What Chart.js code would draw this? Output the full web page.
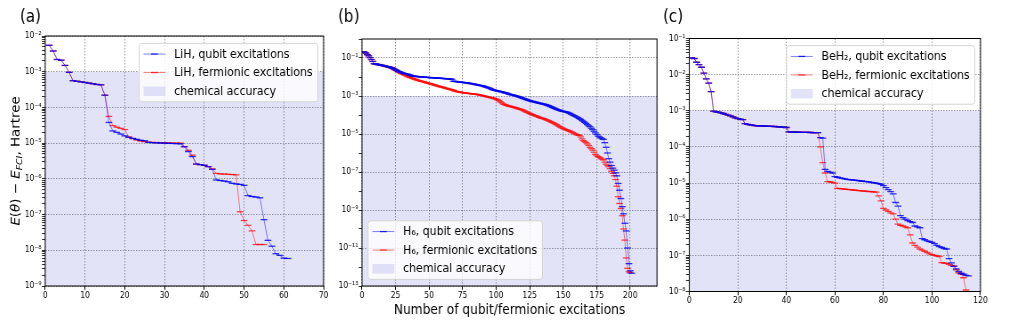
<!doctype html>
<html>
<head>
<meta charset="UTF-8">
<title>Qubit vs fermionic excitations</title>
<script src="https://cdn.jsdelivr.net/npm/chart.js"></script>
<style>
  body { margin: 0; background: #fff; }
  #wrap { position: relative; width: 1009px; height: 336px; overflow: hidden; }
  canvas { position: absolute; top: 0; }
</style>
</head>
<body>
<div id="wrap">
  <canvas id="chartA"></canvas>
  <canvas id="chartB"></canvas>
  <canvas id="chartC"></canvas>
</div>
<script>
// ---- data (energy error in Hartree, one value per added excitation, starting at 1) ----
const chemAccuracy = 1e-3;

const lihLabels = ['LiH, qubit excitations', 'LiH, fermionic excitations', 'chemical accuracy'];
const lihQubit = [
  5.5e-3, 3.8e-3, 2.2e-3, 2.1e-3, 1.5e-3, 9.6e-4, 5.6e-4, 5.4e-4, 5.2e-4, 5.0e-4,
  4.8e-4, 4.6e-4, 4.4e-4, 4.3e-4, 2.2e-4, 3.8e-5, 2.2e-5, 2.0e-5, 1.8e-5, 1.6e-5,
  1.45e-5, 1.35e-5, 1.28e-5, 1.2e-5, 1.17e-5, 1.05e-5, 1.03e-5, 1.02e-5, 1.01e-5, 1.0e-5,
  9.9e-6, 9.8e-6, 9.7e-6, 9.6e-6, 7.9e-6, 5.8e-6, 4.2e-6, 2.6e-6, 2.5e-6, 2.4e-6,
  2.2e-6, 1.85e-6, 9.3e-7, 9.0e-7, 8.7e-7, 8.3e-7, 7.5e-7, 7.2e-7, 7.0e-7, 6.6e-7,
  3.4e-7, 3.2e-7, 3.1e-7, 2.95e-7, 7.2e-8, 1.9e-8, 1.3e-8, 8.0e-9, 7.2e-9, 6.0e-9,
  5.9e-9
];
const lihFerm = [
  5.5e-3, 3.8e-3, 2.2e-3, 2.1e-3, 1.5e-3, 9.6e-4, 5.6e-4, 5.4e-4, 5.2e-4, 5.0e-4,
  4.8e-4, 4.6e-4, 4.4e-4, 4.3e-4, 2.2e-4, 5.6e-5, 3.1e-5, 2.8e-5, 2.6e-5, 2.4e-5,
  1.5e-5, 1.35e-5, 1.22e-5, 1.15e-5, 1.1e-5, 1.06e-5, 1.05e-5, 1.04e-5, 1.03e-5, 1.02e-5,
  1.01e-5, 1.0e-5, 1.0e-5, 1.0e-5, 8.0e-6, 6.3e-6, 4.6e-6, 2.6e-6, 2.5e-6, 2.4e-6,
  2.2e-6, 1.9e-6, 1.42e-6, 1.38e-6, 1.36e-6, 1.34e-6, 1.32e-6, 1.3e-6, 1.2e-7, 6.8e-8,
  5.0e-8, 3.5e-8, 1.45e-8, 1.45e-8, 1.45e-8
];
const lihXTicks = [0, 10, 20, 30, 40, 50, 60, 70];

const h6Labels = ['H₆, qubit excitations', 'H₆, fermionic excitations', 'chemical accuracy'];
const h6Qubit = [
  2.1e-1, 2.0e-1, 1.8e-1, 1.5e-1, 1.3e-1, 1.05e-1, 8.3e-2, 6.6e-2, 5.0e-2, 4.9e-2,
  4.7e-2, 4.5e-2, 4.4e-2, 4.2e-2, 4.1e-2, 3.9e-2, 3.8e-2, 3.6e-2, 3.5e-2, 3.4e-2,
  3.2e-2, 3.0e-2, 2.9e-2, 2.6e-2, 2.4e-2, 2.2e-2, 2.0e-2, 1.9e-2, 1.75e-2, 1.65e-2,
  1.55e-2, 1.5e-2, 1.45e-2, 1.4e-2, 1.32e-2, 1.25e-2, 1.18e-2, 1.12e-2, 1.1e-2, 1.08e-2,
  1.06e-2, 1.04e-2, 1.02e-2, 1.01e-2, 1.0e-2, 9.9e-3, 9.8e-3, 9.6e-3, 9.5e-3, 9.4e-3,
  9.3e-3, 9.2e-3, 9.1e-3, 9.0e-3, 8.9e-3, 8.8e-3, 8.7e-3, 8.6e-3, 8.5e-3, 8.4e-3,
  8.3e-3, 8.2e-3, 8.1e-3, 8.0e-3, 7.9e-3, 7.8e-3, 7.6e-3, 6.0e-3, 5.9e-3, 5.8e-3,
  5.7e-3, 5.5e-3, 5.4e-3, 5.3e-3, 5.2e-3, 5.1e-3, 5.0e-3, 4.9e-3, 4.8e-3, 4.7e-3,
  4.5e-3, 4.4e-3, 4.3e-3, 4.1e-3, 4.0e-3, 3.8e-3, 3.7e-3, 3.6e-3, 3.5e-3, 3.4e-3,
  3.2e-3, 3.0e-3, 2.9e-3, 2.7e-3, 2.6e-3, 2.4e-3, 2.2e-3, 2.1e-3, 2.0e-3, 1.9e-3,
  1.85e-3, 1.8e-3, 1.7e-3, 1.65e-3, 1.6e-3, 1.5e-3, 1.45e-3, 1.4e-3, 1.3e-3, 1.23e-3,
  1.18e-3, 1.14e-3, 1.1e-3, 1.05e-3, 1.0e-3, 9.5e-4, 9.0e-4, 8.5e-4, 8.0e-4, 7.5e-4,
  7.1e-4, 6.7e-4, 6.3e-4, 6.0e-4, 5.7e-4, 5.4e-4, 5.2e-4, 5.0e-4, 4.8e-4, 4.6e-4,
  4.4e-4, 4.2e-4, 4.1e-4, 3.9e-4, 3.8e-4, 3.6e-4, 3.5e-4, 3.3e-4, 3.1e-4, 2.9e-4,
  2.7e-4, 2.5e-4, 2.3e-4, 2.2e-4, 2.0e-4, 1.9e-4, 1.8e-4, 1.7e-4, 1.6e-4, 1.55e-4,
  1.5e-4, 1.45e-4, 1.4e-4, 1.3e-4, 1.2e-4, 1.1e-4, 1.0e-4, 9.3e-5, 8.6e-5, 7.9e-5,
  7.2e-5, 6.5e-5, 5.9e-5, 5.2e-5, 4.6e-5, 4.1e-5, 3.6e-5, 3.1e-5, 2.7e-5, 2.4e-5,
  2.0e-5, 1.7e-5, 1.4e-5, 1.15e-5, 9.5e-6, 7.8e-6, 7.0e-6, 6.3e-6, 5.6e-6, 5.2e-6,
  3.5e-6, 2.0e-6, 1.0e-6, 5.0e-7, 3.3e-7, 2.2e-7, 1.6e-7, 1.25e-7, 9.0e-8, 6.3e-8,
  2.5e-8, 1.1e-8, 4.0e-9, 1.5e-9, 6.3e-10, 2.0e-10, 7.9e-11, 1.0e-11, 1.5e-12, 6.3e-13,
  4.7e-13
];
const h6Ferm = [
  2.1e-1, 2.0e-1, 1.8e-1, 1.5e-1, 1.3e-1, 1.05e-1, 8.3e-2, 6.6e-2, 5.0e-2, 4.9e-2,
  4.7e-2, 4.5e-2, 4.4e-2, 4.2e-2, 4.1e-2, 3.9e-2, 3.8e-2, 3.6e-2, 3.5e-2, 3.4e-2,
  3.2e-2, 3.0e-2, 2.8e-2, 2.5e-2, 2.3e-2, 2.1e-2, 1.9e-2, 1.7e-2, 1.55e-2, 1.45e-2,
  1.35e-2, 1.25e-2, 1.15e-2, 1.05e-2, 1.0e-2, 9.4e-3, 8.9e-3, 8.3e-3, 7.8e-3, 7.4e-3,
  7.0e-3, 6.6e-3, 6.3e-3, 6.0e-3, 5.8e-3, 5.6e-3, 5.3e-3, 5.0e-3, 4.8e-3, 4.6e-3,
  4.4e-3, 4.2e-3, 4.0e-3, 3.8e-3, 3.6e-3, 3.4e-3, 3.3e-3, 3.1e-3, 3.0e-3, 2.9e-3,
  2.8e-3, 2.6e-3, 2.5e-3, 2.4e-3, 2.3e-3, 2.2e-3, 2.1e-3, 2.0e-3, 1.85e-3, 1.75e-3,
  1.7e-3, 1.65e-3, 1.6e-3, 1.55e-3, 1.5e-3, 1.47e-3, 1.44e-3, 1.41e-3, 1.38e-3, 1.35e-3,
  1.33e-3, 1.3e-3, 1.27e-3, 1.25e-3, 1.23e-3, 1.2e-3, 1.16e-3, 1.12e-3, 1.08e-3, 1.05e-3,
  1.0e-3, 9.6e-4, 9.2e-4, 8.8e-4, 8.5e-4, 8.2e-4, 7.9e-4, 7.6e-4, 7.2e-4, 6.8e-4,
  6.3e-4, 5.8e-4, 5.1e-4, 4.5e-4, 3.9e-4, 3.6e-4, 3.4e-4, 3.2e-4, 3.0e-4, 2.9e-4,
  2.8e-4, 2.7e-4, 2.55e-4, 2.45e-4, 2.35e-4, 2.2e-4, 2.1e-4, 2.0e-4, 1.9e-4, 1.8e-4,
  1.65e-4, 1.5e-4, 1.4e-4, 1.3e-4, 1.2e-4, 1.12e-4, 1.05e-4, 9.8e-5, 9.2e-5, 8.8e-5,
  8.2e-5, 7.6e-5, 7.1e-5, 6.8e-5, 6.5e-5, 6.2e-5, 5.8e-5, 5.4e-5, 5.0e-5, 4.7e-5,
  4.3e-5, 4.0e-5, 3.7e-5, 3.4e-5, 3.1e-5, 2.8e-5, 2.5e-5, 2.3e-5, 2.1e-5, 1.95e-5,
  1.8e-5, 1.7e-5, 1.6e-5, 1.5e-5, 1.4e-5, 1.3e-5, 1.2e-5, 1.1e-5, 1.0e-5, 9.2e-6,
  8.8e-6, 8.5e-6, 7.0e-6, 5.5e-6, 4.5e-6, 4.0e-6, 3.5e-6, 3.0e-6, 2.5e-6, 2.0e-6,
  1.7e-6, 1.4e-6, 1.1e-6, 8.5e-7, 7.2e-7, 6.5e-7, 5.9e-7, 5.3e-7, 4.7e-7, 4.3e-7,
  3.3e-7, 2.6e-7, 2.2e-7, 1.9e-7, 1.5e-7, 1.1e-7, 8.5e-8, 6.3e-8, 4.0e-8, 1.8e-8,
  5.0e-9, 2.2e-9, 1.2e-9, 5.0e-10, 1.0e-10, 2.6e-11, 3.0e-12, 8.5e-13, 5.6e-13, 5.0e-13
];
const h6XTicks = [0, 25, 50, 75, 100, 125, 150, 175, 200];

const beh2Labels = ['BeH₂, qubit excitations', 'BeH₂, fermionic excitations', 'chemical accuracy'];
const beh2Qubit = [
  2.9e-2, 2.8e-2, 2.2e-2, 1.9e-2, 1.6e-2, 1.1e-2, 7.6e-3, 5.8e-3, 3.4e-3, 9.8e-4,
  9.4e-4, 9.1e-4, 8.8e-4, 8.4e-4, 8.0e-4, 7.6e-4, 7.2e-4, 6.8e-4, 6.4e-4, 6.1e-4,
  5.9e-4, 5.7e-4, 4.4e-4, 4.2e-4, 4.1e-4, 4.0e-4, 3.9e-4, 3.85e-4, 3.8e-4, 3.8e-4,
  3.78e-4, 3.75e-4, 3.72e-4, 3.7e-4, 3.68e-4, 3.65e-4, 3.6e-4, 3.55e-4, 3.5e-4, 3.45e-4,
  2.6e-4, 2.58e-4, 2.57e-4, 2.56e-4, 2.55e-4, 2.54e-4, 2.53e-4, 2.52e-4, 2.52e-4, 2.51e-4,
  2.5e-4, 2.5e-4, 2.5e-4, 1.8e-4, 1.75e-4, 2.4e-5, 2.1e-5, 2.0e-5, 1.9e-5, 1.5e-5,
  1.45e-5, 1.4e-5, 1.35e-5, 1.3e-5, 1.27e-5, 1.25e-5, 1.22e-5, 1.2e-5, 1.18e-5, 1.16e-5,
  1.14e-5, 1.12e-5, 1.1e-5, 1.08e-5, 1.05e-5, 1.02e-5, 1.0e-5, 9.6e-6, 9.2e-6, 8.5e-6,
  7.5e-6, 6.6e-6, 5.8e-6, 5.0e-6, 2.9e-6, 2.3e-6, 1.25e-6, 1.1e-6, 1.0e-6, 9.2e-7,
  8.6e-7, 8.1e-7, 6.5e-7, 6.1e-7, 5.8e-7, 2.9e-7, 2.7e-7, 2.5e-7, 2.4e-7, 2.3e-7,
  2.1e-7, 1.9e-7, 1.75e-7, 1.65e-7, 1.55e-7, 1.5e-7, 8.1e-8, 6.2e-8, 5.0e-8, 4.2e-8,
  3.6e-8, 3.2e-8, 3.0e-8, 2.8e-8, 2.7e-8
];
const beh2Ferm = [
  2.9e-2, 2.8e-2, 2.2e-2, 1.9e-2, 1.6e-2, 1.1e-2, 7.6e-3, 5.8e-3, 3.4e-3, 9.8e-4,
  9.4e-4, 9.1e-4, 8.8e-4, 8.4e-4, 8.0e-4, 7.6e-4, 7.2e-4, 6.8e-4, 6.4e-4, 6.1e-4,
  5.9e-4, 5.7e-4, 4.4e-4, 4.2e-4, 4.1e-4, 4.0e-4, 3.9e-4, 3.85e-4, 3.8e-4, 3.8e-4,
  3.78e-4, 3.75e-4, 3.72e-4, 3.7e-4, 3.68e-4, 3.65e-4, 3.6e-4, 3.55e-4, 3.5e-4, 3.45e-4,
  2.6e-4, 2.58e-4, 2.57e-4, 2.56e-4, 2.55e-4, 2.54e-4, 2.53e-4, 2.52e-4, 2.52e-4, 2.51e-4,
  2.5e-4, 2.5e-4, 2.5e-4, 1.0e-4, 3.7e-5, 1.9e-5, 1.1e-5, 1.08e-5, 1.05e-5, 1.0e-5,
  7.1e-6, 7.0e-6, 6.9e-6, 6.8e-6, 6.7e-6, 6.6e-6, 6.5e-6, 6.4e-6, 6.3e-6, 6.2e-6,
  6.1e-6, 6.0e-6, 5.9e-6, 5.85e-6, 5.8e-6, 5.7e-6, 5.6e-6, 4.4e-6, 3.2e-6, 2.0e-6,
  1.8e-6, 1.65e-6, 1.5e-6, 1.4e-6, 1.0e-6, 7.3e-7, 6.8e-7, 6.5e-7, 6.1e-7, 5.8e-7,
  3.7e-7, 2.2e-7, 1.9e-7, 1.7e-7, 1.5e-7, 1.4e-7, 1.3e-7, 1.2e-7, 1.1e-7, 1.05e-7,
  1.0e-7, 9.6e-8, 9.3e-8, 6.3e-8, 6.1e-8, 6.0e-8, 5.6e-8, 5.3e-8, 5.0e-8, 4.0e-8,
  3.3e-8, 3.0e-8, 2.4e-8, 1.1e-8
];
const beh2XTicks = [0, 20, 40, 60, 80, 100, 120];

// ---- look ----
const SX = 0.89;              // the source figure is squeezed horizontally
const FONT = "'DejaVu Sans', sans-serif";
const BLUE_LINE = 'rgba(0,0,255,0.5)', BLUE_MARK = 'rgba(0,0,235,0.8)';
const RED_LINE = 'rgba(255,0,0,0.5)', RED_MARK = 'rgba(255,0,0,0.7)';
const SHADE = 'rgba(40,40,200,0.13)';
const GRID = 'rgba(90,90,90,0.75)';

function supPow(e) {
  const m = {'-': '⁻', '0': '⁰', '1': '¹', '2': '²', '3': '³', '4': '⁴', '5': '⁵', '6': '⁶', '7': '⁷', '8': '⁸', '9': '⁹'};
  return '10' + String(e).split('').map(c => m[c]).join('');
}

// decade ticks, with 2..9 minor marks if asked
function logTicks(minExp, maxExp, labelled, minor) {
  const t = [];
  for (let e = minExp; e <= maxExp; e++) {
    t.push({value: Math.pow(10, e), lab: labelled.includes(e), exp: e});
    if (minor && e < maxExp) {
      for (let k = 2; k < 10; k++) t.push({value: k * Math.pow(10, e), lab: false});
    }
  }
  return t;
}

function series(label, vals, line, mark, order) {
  return {
    label, order, fill: false,
    data: vals.map((v, i) => ({x: i + 1, y: v})),
    borderColor: line, borderWidth: 1,
    pointStyle: 'line', pointRadius: 3.8, pointBorderWidth: 1.3, pointBorderColor: mark
  };
}

function shade(label, xmax) {
  return {
    label, order: 3, fill: 'start', isPatch: true,
    data: [{x: 0, y: chemAccuracy}, {x: xmax, y: chemAccuracy}],
    borderColor: 'rgba(0,0,0,0)', borderWidth: 0, pointRadius: 0, backgroundColor: SHADE
  };
}

function drawYLabel(chart, o) {
  const ctx = chart.ctx, fs = 13.4;
  const parts = [['E', 'italic', 1, 0], ['(', '', 1, 0], ['θ', 'italic', 1, 0], [') − ', '', 1, 0],
                 ['E', 'italic', 1, 0], ['FCI', 'italic', 0.7, 3], [', Hartree', '', 1, 0]];
  ctx.save();
  ctx.translate(o.x, o.y);
  ctx.rotate(-Math.PI / 2);
  let total = 0;
  const widths = parts.map(p => {
    ctx.font = `${p[1]} ${fs * p[2]}px ${FONT}`;
    const w = ctx.measureText(p[0]).width;
    total += w;
    return w;
  });
  let cx = -total / 2;
  ctx.fillStyle = '#000';
  ctx.textBaseline = 'alphabetic';
  ctx.textAlign = 'left';
  parts.forEach((p, i) => {
    ctx.font = `${p[1]} ${fs * p[2]}px ${FONT}`;
    ctx.fillText(p[0], cx, fs * 0.36 + p[3]);
    cx += widths[i];
  });
  ctx.restore();
}

function drawLegend(chart, o) {
  const ctx = chart.ctx, a = chart.chartArea, em = 12.3;
  const items = chart.data.datasets;
  ctx.save();
  ctx.font = `${em}px ${FONT}`;
  const tw = Math.max(...items.map(d => ctx.measureText(d.label).width));
  const w = em * 3.6 + tw + 1, rowH = 18.5, h = rowH * items.length + 3;
  const x = o.corner === 'ne' ? a.right - o.dx - w : a.left + o.dx;
  const y = o.corner === 'ne' ? a.top + o.dy : a.bottom - o.dy - h;
  ctx.beginPath();
  ctx.roundRect(x, y, w, h, 3);
  ctx.fillStyle = 'rgba(255,255,255,0.8)';
  ctx.fill();
  ctx.strokeStyle = '#d4d4d4';
  ctx.lineWidth = 1;
  ctx.stroke();
  items.forEach((d, i) => {
    const cy = y + 1.5 + rowH * (i + 0.5);
    const hx = x + 0.4 * em, hw = 2 * em;
    if (d.isPatch) {
      ctx.fillStyle = d.backgroundColor;
      ctx.fillRect(hx, cy - 4.5, hw, 9.5);
    } else {
      ctx.strokeStyle = d.borderColor;
      ctx.lineWidth = 1;
      ctx.beginPath(); ctx.moveTo(hx, cy); ctx.lineTo(hx + hw, cy); ctx.stroke();
      ctx.strokeStyle = d.pointBorderColor;
      ctx.lineWidth = 1.3;
      ctx.beginPath(); ctx.moveTo(hx + hw / 2 - 3.8, cy); ctx.lineTo(hx + hw / 2 + 3.8, cy); ctx.stroke();
    }
    ctx.fillStyle = '#000';
    ctx.textBaseline = 'middle';
    ctx.textAlign = 'left';
    ctx.fillText(d.label, x + 3.2 * em, cy + 0.5);
  });
  ctx.restore();
}

// frame, panel letter, y label and the in-axes legend
const decor = {
  id: 'decor',
  afterDraw(chart, args, o) {
    const ctx = chart.ctx, a = chart.chartArea;
    ctx.save();
    ctx.strokeStyle = '#000';
    ctx.lineWidth = 1;
    ctx.strokeRect(a.left, a.top, a.right - a.left, a.bottom - a.top);
    ctx.fillStyle = '#000';
    ctx.font = `17px ${FONT}`;
    ctx.textBaseline = 'middle';
    ctx.textAlign = 'left';
    ctx.fillText(o.label, o.labelX, 18);
    ctx.restore();
    if (o.ylabel) drawYLabel(chart, o.ylabel);
    drawLegend(chart, o.legend);
  }
};

function makePanel(id, p) {
  const cw = Math.round(p.width / SX);
  const L = (p.area.l - p.left) / SX, R = (p.area.r - p.left) / SX;
  const cv = document.getElementById(id);
  cv.width = cw;
  cv.height = 336;
  cv.style.left = p.left + 'px';
  cv.style.width = (cw * SX) + 'px';
  cv.style.height = '336px';
  const yt = logTicks(p.yExp[0], p.yExp[1], p.yLab, p.minor);
  const tickFont = {family: FONT, size: 8.5};

  new Chart(cv, {
    type: 'line',
    data: {
      datasets: [
        series(p.names[0], p.qubit, BLUE_LINE, BLUE_MARK, 1),
        series(p.names[1], p.ferm, RED_LINE, RED_MARK, 2),
        shade(p.names[2], p.xmax)
      ]
    },
    options: {
      responsive: false,
      devicePixelRatio: 1,
      animation: false,
      events: [],
      layout: {padding: {left: 0, top: p.area.t, right: cw - R, bottom: 0}},
      scales: {
        x: {
          type: 'linear', min: 0, max: p.xmax,
          afterBuildTicks: s => { s.ticks = p.xt.map(v => ({value: v})); },
          afterFit: s => { s.height = 336 - p.area.b; },
          ticks: {font: tickFont, color: '#000', padding: 0.5, autoSkip: false, maxRotation: 0},
          grid: {color: GRID, lineWidth: 0.8, tickLength: 3.8, tickColor: '#000', tickWidth: 1},
          border: {display: false, dash: [1.5, 1.5]},
          title: p.xTitle ? {display: true, text: p.xTitle, color: '#000',
                             font: {family: FONT, size: 13.7}, padding: {top: 0, bottom: 17.8}}
                          : {display: false}
        },
        y: {
          type: 'logarithmic', min: Math.pow(10, p.yExp[0]), max: Math.pow(10, p.yExp[1]),
          afterBuildTicks: s => { s.ticks = yt.map(t => Object.assign({}, t)); },
          afterFit: s => { s.width = L; },
          ticks: {
            font: tickFont, color: '#000', padding: 0.5, autoSkip: false,
            callback: (v, i, ticks) => ticks[i].lab ? supPow(ticks[i].exp) : ''
          },
          grid: {
            color: c => (c.tick && c.tick.lab) ? GRID : 'rgba(0,0,0,0)',
            lineWidth: 0.8, tickLength: 3.8, tickColor: '#000', tickWidth: 0.8
          },
          border: {display: false, dash: [1.5, 1.5]}
        }
      },
      plugins: {
        legend: {display: false},
        tooltip: {enabled: false},
        decor: {
          label: p.label, labelX: (p.labelX - p.left) / SX,
          ylabel: p.ylabel ? {x: p.ylabel.x / SX, y: p.ylabel.y} : null,
          legend: {corner: p.legend.corner, dx: p.legend.dx / SX, dy: p.legend.dy}
        }
      }
    },
    plugins: [decor]
  });
}

makePanel('chartA', {
  left: 0, width: 336, area: {l: 45.3, r: 324, t: 36, b: 286},
  label: '(a)', labelX: 20, ylabel: {x: 15, y: 161},
  names: lihLabels, qubit: lihQubit, ferm: lihFerm,
  xmax: 70, xt: lihXTicks, yExp: [-9, -2], yLab: [-9, -8, -7, -6, -5, -4, -3, -2], minor: true,
  legend: {corner: 'ne', dx: 5.7, dy: 7.3}
});

makePanel('chartB', {
  left: 330, width: 335, area: {l: 362, r: 656.7, t: 39, b: 286},
  label: '(b)', labelX: 338,
  names: h6Labels, qubit: h6Qubit, ferm: h6Ferm,
  xmax: 220, xt: h6XTicks, yExp: [-13, 0], yLab: [-13, -11, -9, -7, -5, -3, -1], minor: false,
  xTitle: 'Number of qubit/fermionic excitations',
  legend: {corner: 'sw', dx: 6, dy: 6.7}
});

makePanel('chartC', {
  left: 655, width: 354, area: {l: 689.3, r: 980.7, t: 38.5, b: 291.5},
  label: '(c)', labelX: 663,
  names: beh2Labels, qubit: beh2Qubit, ferm: beh2Ferm,
  xmax: 120, xt: beh2XTicks, yExp: [-8, -1], yLab: [-8, -7, -6, -5, -4, -3, -2, -1], minor: true,
  legend: {corner: 'ne', dx: 5.7, dy: 7.2}
});
</script>
</body>
</html>
